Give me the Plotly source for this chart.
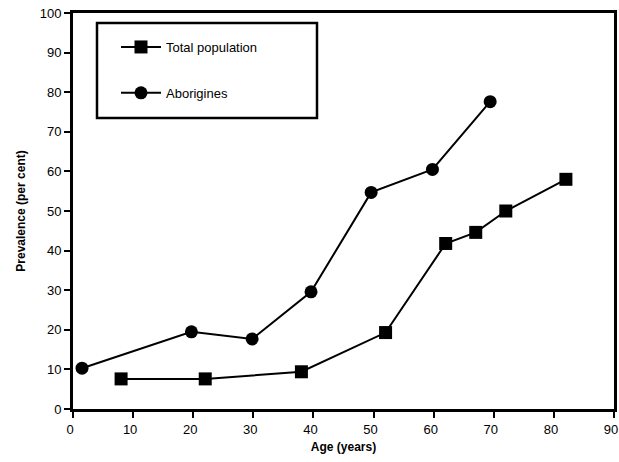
import plotly.graph_objects as go

# Data
total_age = [8, 22, 38, 52, 62, 67, 72, 82]
total_prev = [7.6, 7.6, 9.4, 19.3, 41.8, 44.6, 50.0, 58.0]
abor_age = [1.5, 19.7, 29.8, 39.6, 49.6, 59.8, 69.4]
abor_prev = [10.3, 19.5, 17.7, 29.6, 54.7, 60.5, 77.6]

x_ticks = [0, 10, 20, 30, 40, 50, 60, 70, 80, 90]
y_ticks = [0, 10, 20, 30, 40, 50, 60, 70, 80, 90, 100]

FONT = "Liberation Sans, Arial, sans-serif"

fig = go.Figure()
fig.add_trace(go.Scatter(
    x=total_age, y=total_prev, name="Total population",
    mode="lines+markers", legendgroup="a",
    line=dict(color="black", width=2),
    marker=dict(symbol="square", size=13, color="black"),
))
fig.add_trace(go.Scatter(
    x=abor_age, y=abor_prev, name="Aborigines",
    mode="lines+markers", legendgroup="b",
    line=dict(color="black", width=2),
    marker=dict(symbol="circle", size=13, color="black"),
))

axis_common = dict(
    showline=True, linecolor="black", linewidth=3, mirror=True,
    ticks="outside", ticklen=6, tickwidth=2, tickcolor="black",
    showgrid=False, zeroline=False, ticklabeloverflow="allow",
    automargin=False,
    tickfont=dict(family=FONT, size=13, color="black"),
)

fig.update_xaxes(
    range=[0, 90], tickvals=x_ticks, ticklabelshift=-3,
    title=dict(text="<b>Age (years)</b>", font=dict(family=FONT, size=12, color="black"), standoff=8),
    **axis_common,
)
fig.update_yaxes(
    range=[0, 100], tickvals=y_ticks,
    title=dict(text="<b>Prevalence (per cent)</b>", font=dict(family=FONT, size=12, color="black"), standoff=12),
    **axis_common,
)

# legend box outline (paper coords of the plot area)
L, R, T, B = 73, 614, 13, 409
PW, PH = R - L, B - T
fig.add_shape(type="rect", xref="paper", yref="paper",
              x0=(97 - L) / PW, x1=(317 - L) / PW,
              y0=(B - 118) / PH, y1=(B - 23) / PH,
              line=dict(color="black", width=2.5), fillcolor="rgba(0,0,0,0)")

fig.update_layout(
    width=619, height=462,
    margin=dict(l=L, r=619 - R, t=T, b=462 - B),
    paper_bgcolor="white", plot_bgcolor="white",
    font=dict(family=FONT, color="black"),
    showlegend=True,
    legend=dict(
        x=(116 - L) / PW, y=(B - 32) / PH, xanchor="left", yanchor="top",
        bgcolor="rgba(0,0,0,0)", borderwidth=0,
        font=dict(family=FONT, size=13, color="black"),
        tracegroupgap=26, itemwidth=40,
    ),
)

fig.write_html(
    "out.html",
    config={"displayModeBar": False},
    post_script="document.body.style.margin='0';document.body.style.overflow='hidden';",
)
